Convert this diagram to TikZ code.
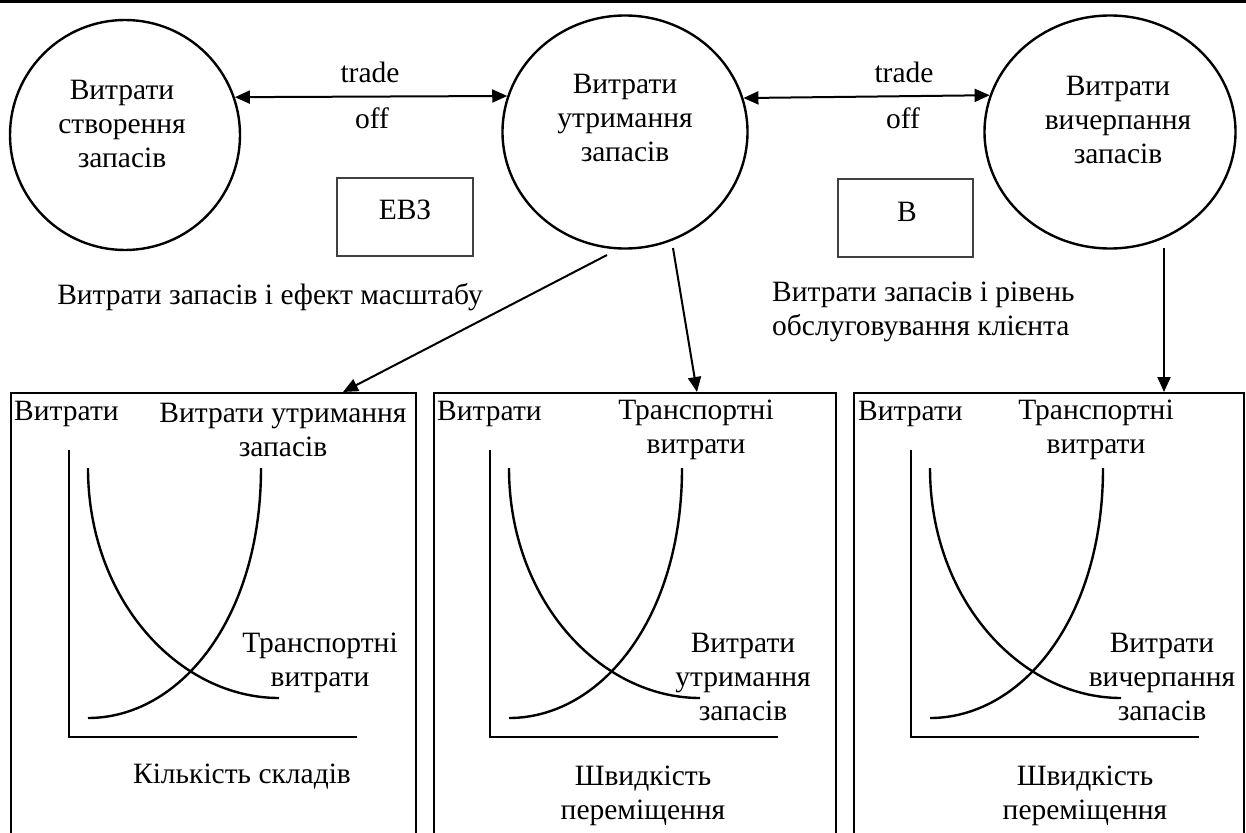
\documentclass[tikz,border=0pt]{standalone}
\usepackage{fontspec}
\setmainfont{Liberation Serif}
\usetikzlibrary{shapes.geometric,arrows.meta}
\begin{document}
\begin{tikzpicture}[x=1pt,y=-1pt,
  every node/.style={font=\fontsize{29.5}{34}\selectfont, inner sep=0pt},
  circ/.style={draw, ellipse, line width=2.4pt, inner sep=0pt},
  gbox/.style={draw=black!75, line width=2pt, inner sep=0pt},
  panel/.style={draw, line width=2.4pt, inner sep=0pt, anchor=north west, minimum height=470pt},
  arr/.style={line width=2pt, -{Triangle[length=15pt,width=13pt]}},
  darr/.style={line width=2pt, {Triangle[length=15pt,width=13pt]}-{Triangle[length=15pt,width=13pt]}},
  axisline/.style={line width=2.4pt},
  curveline/.style={line width=2.4pt}]
\useasboundingbox (0,0) rectangle (1246,832);
\clip (0,0) rectangle (1246,832);
\fill[white] (0,0) rectangle (1246,832);
\draw[line width=3pt] (0,2) -- (1246,2);

% circles
\node[circ, minimum width=230pt, minimum height=230pt] (c1) at (125,135) {};
\node[circ, minimum width=245pt, minimum height=233pt] (c2) at (625,132) {};
\node[circ, minimum width=251pt, minimum height=233pt] (c3) at (1110,132) {};
\node[align=center] (c1t) at (122,124) {Витрати\\створення\\запасів};
\node[align=center] (c2t) at (625,118) {Витрати\\утримання\\запасів};
\node[align=center] (c3t) at (1118,120) {Витрати\\вичерпання\\запасів};

% trade-off arrows
\draw[darr] (c1.19.3) -- (c2.163.3);
\draw[darr] (c2.16.7) -- (c3.163.7);
\node (tr1) at (370,72) {trade};
\node (of1) at (372,118) {off};
\node (tr2) at (904,72) {trade};
\node (of2) at (903,118) {off};

% small boxes
\node[gbox, minimum width=136pt, minimum height=78pt] (evz) at (405,217) {};
\node (evzt) at (405,210) {ЕВЗ};
\node[gbox, minimum width=135pt, minimum height=78pt] (bb) at (905.5,218) {};
\node (bbt) at (907,212) {В};

% captions
\node (scale) at (270,297) {Витрати запасів і ефект масштабу};
\node[align=left, anchor=west] (serv) at (772,312) {Витрати запасів і рівень\\обслуговування клієнта};

% panels
\node[panel, minimum width=405pt] (p1) at (10,392) {};
\node[panel, minimum width=402pt] (p2) at (433,392) {};
\node[panel, minimum width=390pt] (p3) at (853,392) {};

% arrows to panels
\coordinate (s1) at (607,255);
\coordinate (s2) at (673,248);
\coordinate (s3) at (1164,248);
\coordinate (e1) at (343,392);
\coordinate (e2) at (697,392);
\coordinate (e3) at (1164,392);
\draw[arr] (s1) -- (e1);
\draw[arr] (s2) -- (e2);
\draw[arr] (s3) -- (e3);

% graphs
\foreach \ox in {69,490,911} {
  \draw[axisline] (\ox,450) -- (\ox,737) -- (\ox+288,737);
  \draw[curveline] (\ox+19,468) .. controls (\ox+19,600) and (\ox+110,698) .. (\ox+210,698);
  \draw[curveline] (\ox+19,718) .. controls (\ox+110,718) and (\ox+192,620) .. (\ox+192,468);
}

% panel 1 labels
\node[anchor=west] (p1y) at (14,414) {Витрати};
\node[align=center] (p1a) at (283,430) {Витрати утримання\\запасів};
\node[align=center] (p1b) at (320,663) {Транспортні\\витрати};
\node (p1x) at (242,777) {Кількість складів};

% panel 2 labels
\node[anchor=west] (p2y) at (437,414) {Витрати};
\node[align=center] (p2a) at (696,430) {Транспортні\\витрати};
\node[align=center] (p2b) at (743,677) {Витрати\\утримання\\запасів};
\node[align=center] (p2x) at (643,796) {Швидкість\\переміщення};

% panel 3 labels
\node[anchor=west] (p3y) at (858,414) {Витрати};
\node[align=center] (p3a) at (1096,430) {Транспортні\\витрати};
\node[align=center] (p3b) at (1162,677) {Витрати\\вичерпання\\запасів};
\node[align=center] (p3x) at (1085,796) {Швидкість\\переміщення};
\end{tikzpicture}
\end{document}
